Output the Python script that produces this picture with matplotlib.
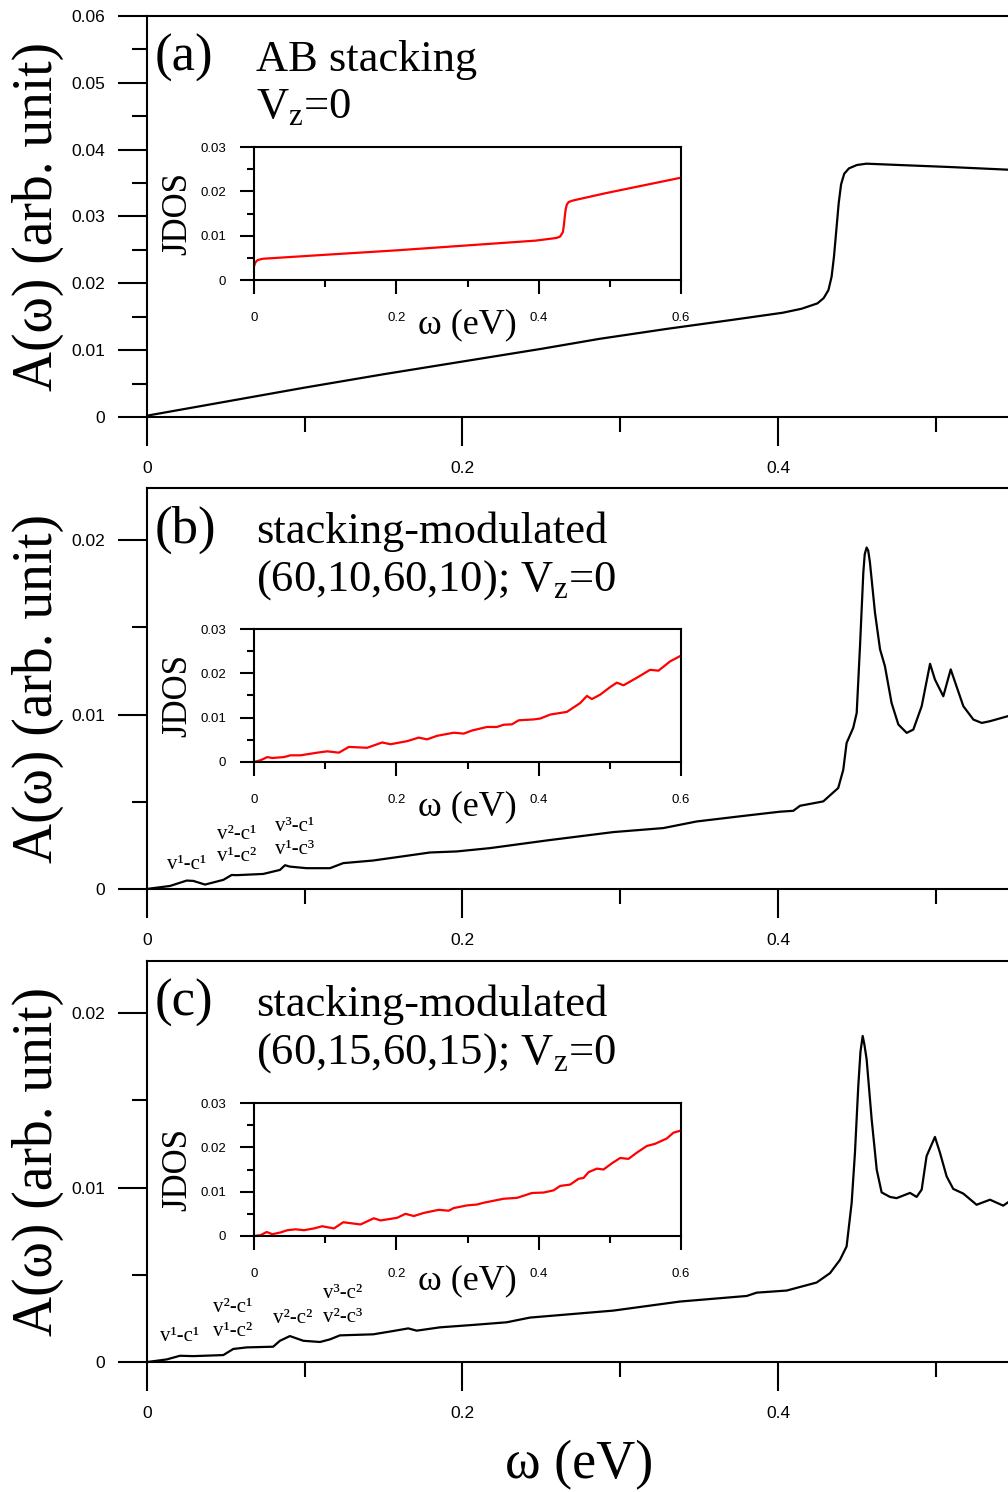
import matplotlib
matplotlib.use("Agg")
import matplotlib.pyplot as plt
from matplotlib.ticker import MultipleLocator, FuncFormatter

plt.rcParams['font.family'] = ['Liberation Serif', 'DejaVu Serif']
plt.rcParams['mathtext.fontset'] = 'custom'
plt.rcParams['mathtext.rm'] = 'Liberation Serif'

# ---- panel (a): AB stacking ----
w_a = [0.0, 0.05, 0.1, 0.15, 0.2, 0.25, 0.287, 0.33, 0.37, 0.403, 0.415, 0.425, 0.429,
       0.432, 0.434, 0.4355, 0.437, 0.4385, 0.440, 0.442, 0.445, 0.450, 0.456, 0.477,
       0.509, 0.546, 0.6]
A_a = [0.0002, 0.0023, 0.0044, 0.0064, 0.0083, 0.0102, 0.0117, 0.0132, 0.0145, 0.0156,
       0.0162, 0.0170, 0.0178, 0.0190, 0.0210, 0.0240, 0.0280, 0.0320, 0.0348, 0.0364,
       0.0372, 0.0377, 0.0379, 0.0377, 0.0374, 0.0370, 0.0366]
jw_a = [0.0, 0.002, 0.005, 0.012, 0.1, 0.2, 0.298, 0.396, 0.425, 0.430, 0.434, 0.4355,
        0.437, 0.438, 0.4395, 0.442, 0.447, 0.455, 0.494, 0.6]
jd_a = [0.0031, 0.0040, 0.0045, 0.0048, 0.0057, 0.0067, 0.0078, 0.0089, 0.0095, 0.0098,
        0.0108, 0.0125, 0.0148, 0.0160, 0.0170, 0.0176, 0.0179, 0.0182, 0.0196, 0.0231]

# ---- panel (b): (60,10,60,10) ----
w_b = [0.0, 0.0146, 0.0252, 0.0294, 0.0368, 0.0484, 0.0537, 0.0569, 0.0737, 0.0843,
       0.0875, 0.0906, 0.1012, 0.116, 0.1244, 0.1434, 0.1646, 0.1794, 0.1963, 0.2174,
       0.2534, 0.2956, 0.3273, 0.3485, 0.3802, 0.4013, 0.4097, 0.414, 0.4287, 0.4382,
       0.4414, 0.4435, 0.4477, 0.4499, 0.452, 0.4541, 0.455, 0.4562, 0.4572, 0.4583,
       0.4615, 0.4647, 0.4678, 0.472, 0.4763, 0.4816, 0.4858, 0.4911, 0.4964, 0.4995,
       0.5048, 0.5095, 0.5175, 0.5239, 0.5292, 0.5344, 0.5458]
A_b = [0.0, 0.00017, 0.00048, 0.00046, 0.00025, 0.00052, 0.0008, 0.00079, 0.00086, 0.00109,
       0.00136, 0.00128, 0.00119, 0.00119, 0.00148, 0.00163, 0.0019, 0.00209, 0.00215, 0.00234,
       0.00278, 0.00326, 0.00349, 0.00387, 0.00421, 0.00443, 0.00448, 0.00477, 0.00502, 0.00579,
       0.00684, 0.00837, 0.00924, 0.01009, 0.01393, 0.01814, 0.0192, 0.01958, 0.0194, 0.01872,
       0.01584, 0.01374, 0.01277, 0.01067, 0.00943, 0.00895, 0.00914, 0.01048, 0.01291, 0.01201,
       0.01105, 0.01259, 0.01048, 0.00971, 0.00952, 0.00962, 0.00991]
jw_b = [0.0, 0.0094, 0.0187, 0.0257, 0.042, 0.0514, 0.0655, 0.0889, 0.1029, 0.1193, 0.1333,
        0.159, 0.1801, 0.1918, 0.2152, 0.2315, 0.2432, 0.2572, 0.2806, 0.2947, 0.3064, 0.3274,
        0.3414, 0.3508, 0.3625, 0.3719, 0.3929, 0.4022, 0.4163, 0.4396, 0.4584, 0.4677, 0.4748,
        0.4865, 0.5005, 0.5098, 0.5192, 0.5379, 0.5566, 0.5683, 0.5847, 0.6]
jd_b = [0.0, 0.0004, 0.0011, 0.0009, 0.0011, 0.0015, 0.0015, 0.0021, 0.0024, 0.0021, 0.0034,
        0.0032, 0.0044, 0.0040, 0.0047, 0.0055, 0.0051, 0.0059, 0.0066, 0.0064, 0.0071, 0.0079,
        0.0079, 0.0084, 0.0085, 0.0094, 0.0096, 0.0098, 0.0107, 0.0113, 0.0133, 0.0149, 0.0142,
        0.0152, 0.0169, 0.0179, 0.0173, 0.0190, 0.0208, 0.0206, 0.0227, 0.0240]

# ---- panel (c): (60,15,60,15) ----
w_c = [0.0, 0.0125, 0.0209, 0.0294, 0.0484, 0.0547, 0.0632, 0.08, 0.0843, 0.0906, 0.0991,
       0.1097, 0.116, 0.1223, 0.1434, 0.1561, 0.1656, 0.171, 0.1857, 0.2069, 0.228, 0.2428,
       0.2956, 0.3379, 0.3802, 0.3865, 0.4055, 0.4245, 0.433, 0.4393, 0.4435, 0.4467, 0.4488,
       0.4509, 0.4523, 0.4537, 0.4548, 0.4562, 0.4594, 0.4626, 0.4657, 0.471, 0.4752, 0.4837,
       0.4879, 0.4911, 0.4942, 0.4995, 0.5027, 0.5069, 0.5111, 0.5175, 0.5259, 0.5344, 0.5428,
       0.5458]
A_c = [0.0, 0.00015, 0.00036, 0.00034, 0.0004, 0.00075, 0.00084, 0.00088, 0.00122, 0.00149,
       0.00122, 0.00115, 0.0013, 0.00153, 0.00159, 0.00178, 0.00193, 0.0018, 0.00199, 0.00213,
       0.00228, 0.00255, 0.00295, 0.00347, 0.00379, 0.00398, 0.0041, 0.00456, 0.0051, 0.00586,
       0.00663, 0.00912, 0.012, 0.01582, 0.0178, 0.0187, 0.0182, 0.01736, 0.01391, 0.01103,
       0.00973, 0.00947, 0.0094, 0.0097, 0.00947, 0.00989, 0.01181, 0.01291, 0.012, 0.01065,
       0.00993, 0.00966, 0.00902, 0.00931, 0.00897, 0.00916]
jw_c = [0.0, 0.0094, 0.0178, 0.0257, 0.0374, 0.0468, 0.0585, 0.0702, 0.0842, 0.0959, 0.1123,
        0.1254, 0.1497, 0.1684, 0.1777, 0.2011, 0.2128, 0.2245, 0.2385, 0.2596, 0.2736, 0.2806,
        0.2994, 0.3134, 0.3227, 0.3508, 0.3695, 0.3906, 0.4069, 0.421, 0.4303, 0.4443, 0.456,
        0.4631, 0.4701, 0.4818, 0.4911, 0.5029, 0.5145, 0.5262, 0.5379, 0.5519, 0.5636, 0.58,
        0.5893, 0.6]
jd_c = [0.0, 0.0002, 0.0009, 0.0004, 0.0008, 0.0013, 0.0015, 0.0013, 0.0017, 0.0022, 0.0017,
        0.0031, 0.0026, 0.0040, 0.0035, 0.0041, 0.0050, 0.0045, 0.0052, 0.0059, 0.0057, 0.0063,
        0.0069, 0.0071, 0.0075, 0.0084, 0.0086, 0.0097, 0.0098, 0.0103, 0.0113, 0.0116, 0.0129,
        0.0131, 0.0144, 0.0152, 0.0150, 0.0164, 0.0176, 0.0174, 0.0188, 0.0203, 0.0208, 0.0220,
        0.0233, 0.0238]

titles = [["AB stacking", r"V$_\mathregular{z}$=0"],
          ["stacking-modulated", r"(60,10,60,10); V$_\mathregular{z}$=0"],
          ["stacking-modulated", r"(60,15,60,15); V$_\mathregular{z}$=0"]]
tags = ["(a)", "(b)", "(c)"]

# transition labels (text, omega, A) for panels b and c
trans_b = [("v¹-c¹", 0.0253, 0.00138), ("v²-c¹", 0.0571, 0.00310), ("v¹-c²", 0.0571, 0.00184),
           ("v³-c¹", 0.0938, 0.00356), ("v¹-c³", 0.0938, 0.00224)]
trans_c = [("v¹-c¹", 0.0209, 0.00144), ("v²-c¹", 0.0545, 0.00310), ("v¹-c²", 0.0545, 0.00178),
           ("v²-c²", 0.0925, 0.00247), ("v³-c²", 0.1243, 0.00391), ("v²-c³", 0.1243, 0.00253)]

fmt = FuncFormatter(lambda v, p: "0" if abs(v) < 1e-12 else "%g" % v)
# main panels are cut at the right edge, so the 0.6 label is not shown
fmt_main_x = FuncFormatter(lambda v, p: "" if v > 0.55 else ("0" if abs(v) < 1e-12 else "%g" % v))


def style(ax, big=True):
    for s in ax.spines.values():
        s.set_linewidth(1.5)
    if big:
        ax.tick_params(which='major', direction='out', length=21, width=1.5,
                       labelsize=12.5, labelfontfamily='Liberation Sans')
        ax.tick_params(which='minor', direction='out', length=11, width=1.5)
        ax.tick_params(axis='x', which='major', pad=11)
        ax.tick_params(axis='y', which='major', pad=9)
        ax.xaxis.set_major_formatter(fmt_main_x)
    else:
        ax.tick_params(which='major', direction='out', length=10, width=1.5,
                       labelsize=9.5, labelfontfamily='Liberation Sans')
        ax.tick_params(which='minor', direction='out', length=5, width=1.5)
        ax.tick_params(axis='x', which='major', pad=13)
        ax.tick_params(axis='y', which='major', pad=10)
        ax.xaxis.set_major_formatter(fmt)
    ax.yaxis.set_major_formatter(fmt)


fig = plt.figure(figsize=(10.08, 14.92), dpi=100)

mains = [(w_a, A_a, 0.06, 0.7205), (w_b, A_b, 0.023, 0.4042), (w_c, A_c, 0.023, 0.0871)]
insets = [(jw_a, jd_a, 0.8123), (jw_b, jd_b, 0.4893), (jw_c, jd_c, 0.1716)]

for i in range(3):
    w, A, top, bot = mains[i]
    ax = fig.add_axes([0.1458, bot, 0.939, 0.2688])
    ax.plot(w, A, color='black', lw=1.6, solid_joinstyle='round')
    ax.set_xlim(0, 0.6)
    ax.set_ylim(0, top)
    ax.xaxis.set_major_locator(MultipleLocator(0.2))
    ax.xaxis.set_minor_locator(MultipleLocator(0.1))
    ax.yaxis.set_major_locator(MultipleLocator(0.01))
    ax.yaxis.set_minor_locator(MultipleLocator(0.005))
    style(ax, True)
    ax.set_ylabel("A(ω) (arb. unit)", fontsize=40, va='center')
    ax.yaxis.set_label_coords(-0.115, 0.5)
    ax.text(0.008, 0.895, tags[i], transform=ax.transAxes, fontsize=38, va='center', ha='left')
    ax.text(0.115, 0.862, titles[i][0], transform=ax.transAxes, fontsize=32, va='baseline')
    ax.text(0.115, 0.744, titles[i][1], transform=ax.transAxes, fontsize=32, va='baseline')
    if i == 1:
        for t, x, y in trans_b:
            ax.text(x, y, t, fontsize=15, ha='center', va='center')
    if i == 2:
        for t, x, y in trans_c:
            ax.text(x, y, t, fontsize=15, ha='center', va='center')
        ax.set_xlabel("ω (eV)", fontsize=39, va='center')
        ax.xaxis.set_label_coords(0.457, -0.257)

    jw, jd, ibot = insets[i]
    ins = fig.add_axes([0.252, ibot, 0.4236, 0.0891])
    ins.plot(jw, jd, color='red', lw=1.6, solid_joinstyle='round')
    ins.set_xlim(0, 0.6)
    ins.set_ylim(0, 0.03)
    ins.xaxis.set_major_locator(MultipleLocator(0.2))
    ins.xaxis.set_minor_locator(MultipleLocator(0.1))
    ins.yaxis.set_major_locator(MultipleLocator(0.01))
    ins.yaxis.set_minor_locator(MultipleLocator(0.005))
    style(ins, False)
    ins.set_xlabel("ω (eV)", fontsize=26, va='center')
    ins.xaxis.set_label_coords(0.499, -0.34)
    ins.set_ylabel("JDOS", fontsize=25, va='center')
    ins.yaxis.set_label_coords(-0.178, 0.5)

fig.savefig("out.png", dpi=100)
